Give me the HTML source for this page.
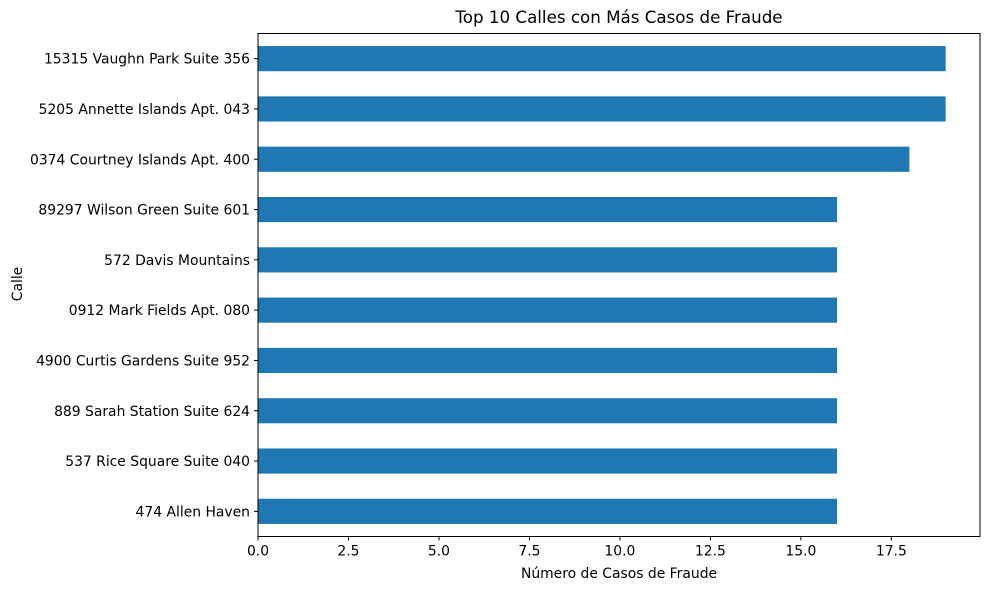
<!DOCTYPE html>
<html><head><meta charset="utf-8"><style>
body{margin:0;background:#fff;font-family:"Liberation Sans","DejaVu Sans",sans-serif;}
svg text{font-family:"DejaVu Sans","Liberation Sans",sans-serif;}
</style></head><body>
<svg id="chart" width="990" height="590" xmlns="http://www.w3.org/2000/svg">
<text x="619" y="23" font-size="16.7" text-anchor="middle" fill="#000">Top 10 Calles con Más Casos de Fraude</text>
<text x="619" y="578" font-size="13.9" text-anchor="middle" fill="#000">Número de Casos de Fraude</text>
<text x="22" y="284" font-size="13.9" text-anchor="middle" fill="#000" transform="rotate(-90 22 284)">Calle</text>
<g id="bars"></g><g id="xticks"></g><g id="yticks"></g>
<rect x="258" y="33.5" width="722" height="503" fill="none" stroke="#000" stroke-width="1"/>
</svg>
<script>
const categories=["15315 Vaughn Park Suite 356","5205 Annette Islands Apt. 043","0374 Courtney Islands Apt. 400","89297 Wilson Green Suite 601","572 Davis Mountains","0912 Mark Fields Apt. 080","4900 Curtis Gardens Suite 952","889 Sarah Station Suite 624","537 Rice Square Suite 040","474 Allen Haven"];
const values=[19,19,18,16,16,16,16,16,16,16];
const xTicks=[0,2.5,5,7.5,10,12.5,15,17.5];
const xTickLabels=["0.0","2.5","5.0","7.5","10.0","12.5","15.0","17.5"];
const NS="http://www.w3.org/2000/svg";
const L=258,R=980,T=33.5,B=536.5;
const xmax=Math.max(...values)*1.05;
const xs=v=>L+v/xmax*(R-L);
const n=categories.length;
const ys=i=>T+(i+0.5)/n*(B-T);
const bh=0.5*(B-T)/n;
function mk(tag,attrs,parent){const e=document.createElementNS(NS,tag);for(const k in attrs)e.setAttribute(k,attrs[k]);document.getElementById(parent).appendChild(e);return e;}
values.forEach((v,i)=>{
 const r=mk('rect',{x:xs(0),y:ys(i)-bh/2,width:xs(v)-xs(0),height:bh,fill:'#1f77b4'},'bars');
 
 
});
categories.forEach((c,i)=>{
 const l=mk('line',{x1:L-4,x2:L,y1:ys(i),y2:ys(i),stroke:'#000'},'yticks');
 
 
 const t=mk('text',{x:L-8,y:ys(i)+5,'font-size':13.9,'text-anchor':'end',fill:'#000'},'yticks');
 t.textContent=c;
 
 
});
xTicks.forEach((v,i)=>{
 const l=mk('line',{x1:xs(v),x2:xs(v),y1:B,y2:B+4,stroke:'#000'},'xticks');
 
 
 const t=mk('text',{x:xs(v),y:B+19,'font-size':13.9,'text-anchor':'middle',fill:'#000'},'xticks');
 t.textContent=xTickLabels[i];
 
 
});
</script>
</body></html>
